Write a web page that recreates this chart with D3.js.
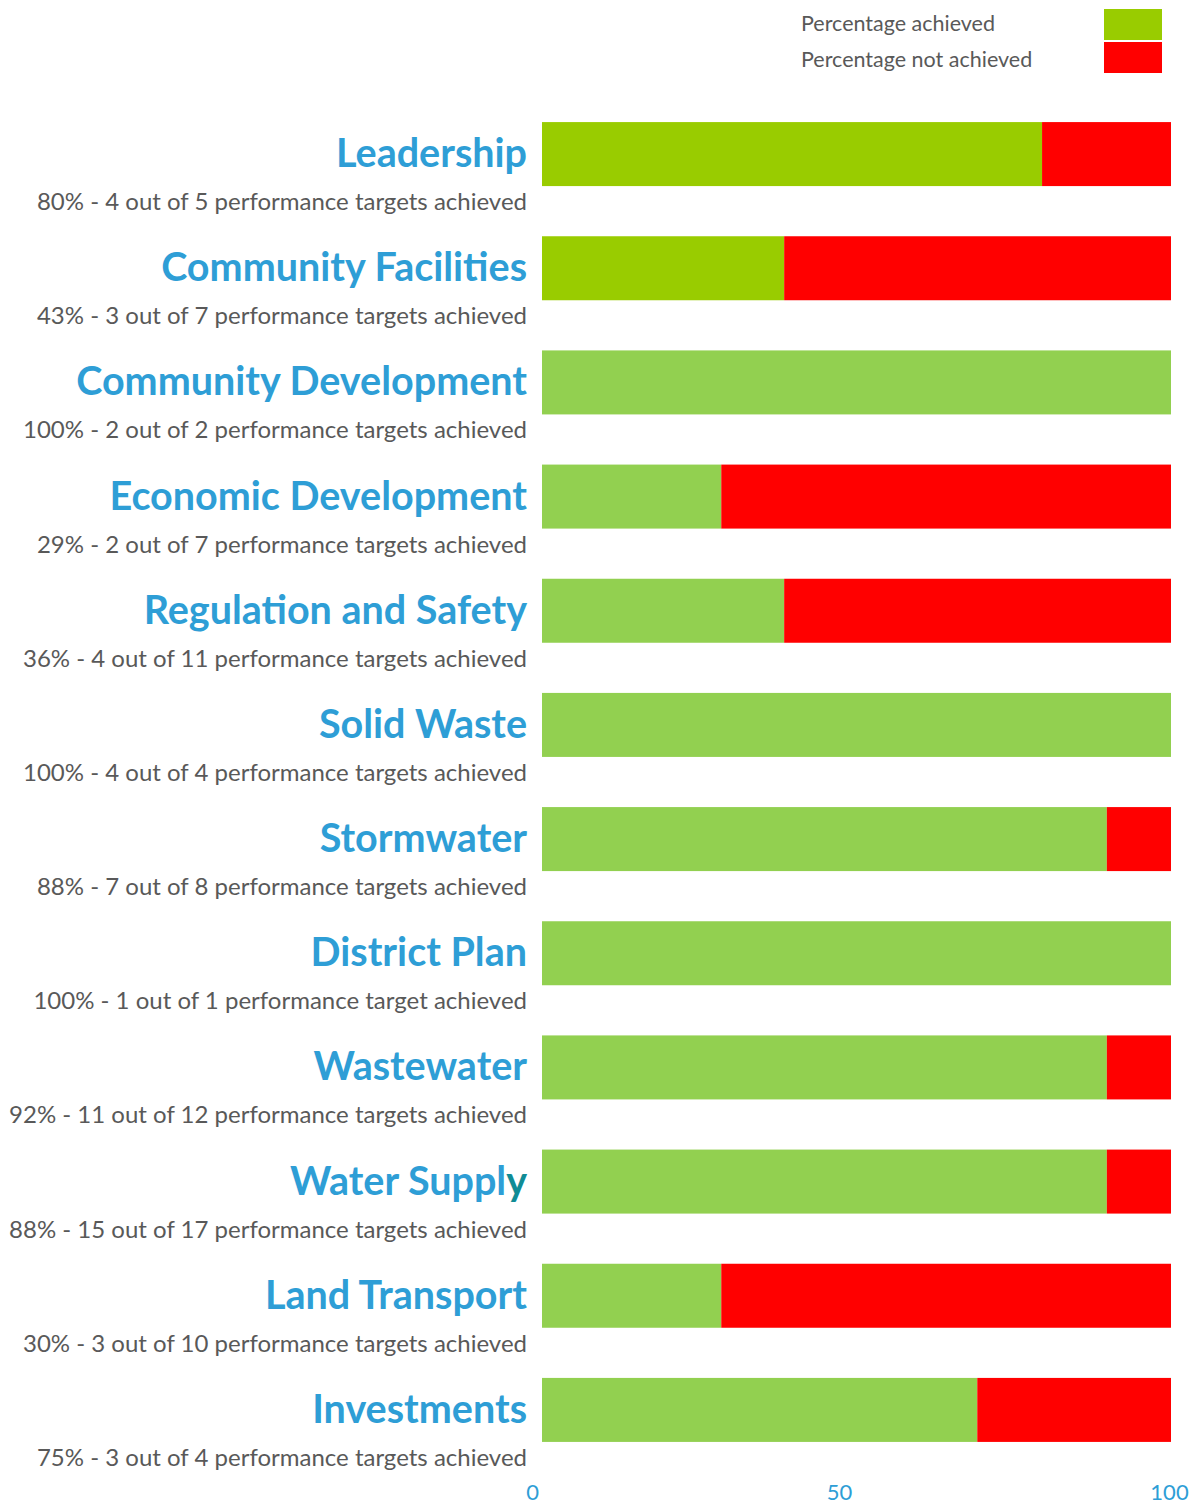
<!DOCTYPE html>
<html lang="en">
<head>
    <meta charset="UTF-8">
    <title>Performance targets achieved</title>
    <script src="https://cdn.jsdelivr.net/npm/d3@7"></script>
    <style>
        body { margin: 0; background: #fff; }
        .title { font: bold 39.5px Lato, "Open Sans", sans-serif; fill: #2e9ed6; }
        .sub { font: 24px Lato, "Open Sans", sans-serif; fill: #595959; }
        .legend text { font: 21.5px Lato, "Open Sans", sans-serif; fill: #595959; }
        .axis text { font: 22px Lato, "Open Sans", sans-serif; fill: #2e9ed6; }
    </style>
</head>
<body>
    <script>
        const width = 1197;
        const height = 1505;

        // Data
        const categories = ["Leadership", "Community Facilities", "Community Development",
            "Economic Development", "Regulation and Safety", "Solid Waste", "Stormwater",
            "District Plan", "Wastewater", "Water Supply", "Land Transport", "Investments"];
        const achieved = [79.5, 38.5, 100, 28.5, 38.5, 100, 89.8, 100, 89.8, 89.8, 28.5, 69.2];
        const notAchieved = achieved.map(v => 100 - v);
        const captions = [
            "80% - 4 out of 5 performance targets achieved",
            "43% - 3 out of 7 performance targets achieved",
            "100% - 2 out of 2 performance targets achieved",
            "29% - 2 out of 7 performance targets achieved",
            "36% - 4 out of 11 performance targets achieved",
            "100% - 4 out of 4 performance targets achieved",
            "88% - 7 out of 8 performance targets achieved",
            "100% - 1 out of 1 performance target achieved",
            "92% - 11 out of 12 performance targets achieved",
            "88% - 15 out of 17 performance targets achieved",
            "30% - 3 out of 10 performance targets achieved",
            "75% - 3 out of 4 performance targets achieved"
        ];
        // first two bars use the older green
        const greens = ["#99cc00", "#99cc00", "#92d050", "#92d050", "#92d050", "#92d050",
            "#92d050", "#92d050", "#92d050", "#92d050", "#92d050", "#92d050"];
        const tickValues = [0, 50, 100];
        const legendLabels = ["Percentage achieved", "Percentage not achieved"];
        const legendColors = ["#99cc00", "#ff0000"];

        const rows = categories.map((c, i) => ({
            name: c, caption: captions[i], green: greens[i],
            achieved: achieved[i], notAchieved: notAchieved[i]
        }));

        const svg = d3.select("body").append("svg")
            .attr("width", width)
            .attr("height", height);

        const x = d3.scaleLinear().domain([0, 100]).range([542, 1171]);
        const y = d3.scaleBand().domain(categories).range([97, 1467]);
        const barH = 64;
        const mid = d => y(d.name) + y.bandwidth() / 2;

        const stack = d3.stack().keys(["achieved", "notAchieved"])(rows);
        const fills = { achieved: d => d.data.green, notAchieved: () => "#ff0000" };

        svg.append("g").selectAll("g")
            .data(stack)
            .enter().append("g")
            .each(function(layer) {
                d3.select(this).selectAll("rect")
                    .data(layer)
                    .enter().append("rect")
                    .attr("x", d => x(d[0]))
                    .attr("width", d => x(d[1]) - x(d[0]))
                    .attr("y", d => mid(d.data) - barH / 2)
                    .attr("height", barH)
                    .attr("fill", fills[layer.key]);
            });

        // category titles with the odd teal "y" on Water Supply
        const titles = svg.append("g").selectAll("text")
            .data(rows)
            .enter().append("text")
            .attr("class", "title")
            .attr("text-anchor", "end")
            .attr("x", 527)
            .attr("y", d => mid(d) + 13);

        titles.each(function(d) {
            const t = d3.select(this);
            if (d.name === "Water Supply") {
                t.append("tspan").text("Water Suppl");
                t.append("tspan").attr("fill", "#108c95").text("y");
            } else {
                t.text(d.name);
            }
        });

        svg.append("g").selectAll("text")
            .data(rows)
            .enter().append("text")
            .attr("class", "sub")
            .attr("text-anchor", "end")
            .attr("x", 527)
            .attr("y", d => mid(d) + 56)
            .text(d => d.caption);

        // axis, labels only (the original's tick labels sit a little off the bars)
        const axisX = d3.scaleLinear().domain([0, 50, 100]).range([532, 839, 1169]);
        const axis = svg.append("g")
            .attr("class", "axis")
            .attr("transform", "translate(0,1483)")
            .call(d3.axisBottom(axisX).tickValues(tickValues).tickSize(0).tickPadding(0));
        axis.select(".domain").remove();
        axis.selectAll("text").attr("dy", "0.75em");

        // legend
        const legend = svg.append("g").attr("class", "legend");
        legend.selectAll("rect")
            .data(legendColors)
            .enter().append("rect")
            .attr("x", 1104)
            .attr("y", (d, i) => 9 + i * 33)
            .attr("width", 58)
            .attr("height", 31)
            .attr("fill", d => d);
        legend.selectAll("text")
            .data(legendLabels)
            .enter().append("text")
            .attr("x", 801)
            .attr("y", (d, i) => 31 + i * 36)
            .text(d => d);
    </script>
</body>
</html>
